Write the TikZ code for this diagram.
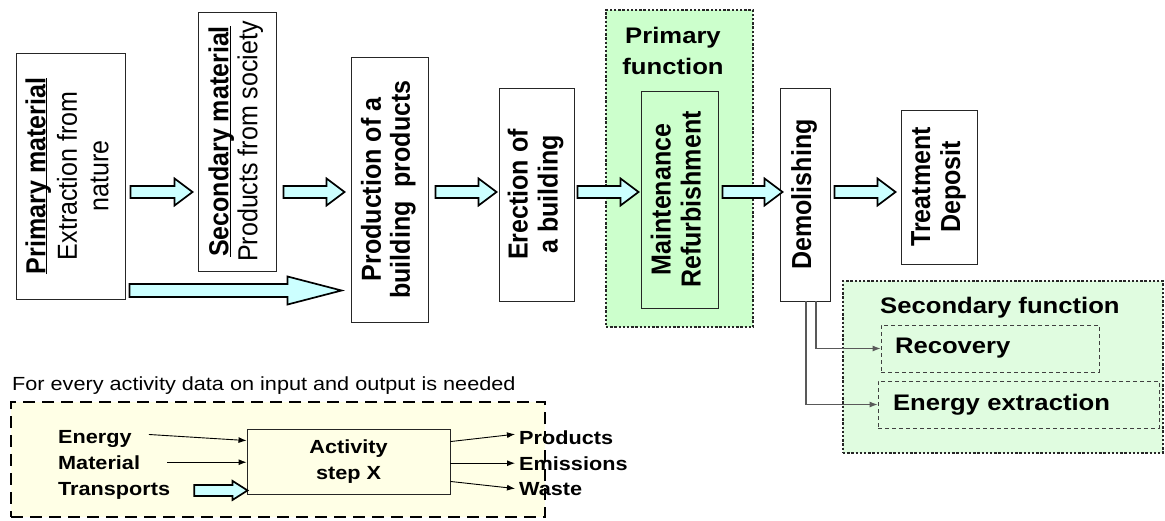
\documentclass[tikz,border=0pt]{standalone}
\usepackage{graphicx}
\usepackage{fontspec}
\setmainfont{Liberation Sans}
% upright text is widened, upright-turned text is narrowed along its own axis
\newfontfamily\rotfont[FakeStretch=0.91]{Liberation Sans}
\newfontfamily\horfont[FakeStretch=1.14]{Liberation Sans}
\usetikzlibrary{arrows.meta,calc}

\definecolor{arrowfill}{RGB}{204,255,255}
\definecolor{primgreen}{RGB}{204,255,204}
\definecolor{secgreen}{RGB}{224,252,224}
\definecolor{notefill}{RGB}{255,255,230}

% text set bottom-to-top inside a box
\newcommand\vtext[2][30]{\rotatebox{90}{\rotfont\fontsize{27.5}{#1}\selectfont\begin{tabular}{@{}c@{}}#2\end{tabular}}}
\newcommand\ulsmash[1]{\underline{\smash{#1}}}

% hollow block arrow: start, tip, shaft half width, head half width, head length
\newcommand\fatarrow[5]{%
  \draw[fat] ([yshift=#3]#1) -- ([xshift=-#5,yshift=#3]#2) -- ([xshift=-#5,yshift=#4]#2)
    -- (#2) -- ([xshift=-#5,yshift=-#4]#2) -- ([xshift=-#5,yshift=-#3]#2)
    -- ([yshift=-#3]#1) -- cycle;}

\tikzset{
  stagebox/.style={draw=black!85, line width=0.9pt, fill=white, inner sep=0pt},
  fat/.style={draw=black, line width=1.7pt, fill=arrowfill, line join=miter},
  dotregion/.style={draw=black!85, line width=2.4pt, dash pattern=on 2.4pt off 1.8pt, inner sep=0pt},
  noteregion/.style={draw=black, line width=2.6pt, dash pattern=on 12pt off 7pt, fill=notefill, inner sep=0pt},
  title/.style={font=\horfont\bfseries\fontsize{22.5}{31}\selectfont, inner sep=0pt},
  subbox/.style={draw=black!75, line width=0.8pt, dash pattern=on 4pt off 3pt, align=left,
                 inner ysep=0pt, minimum height=47pt, font=\horfont\bfseries\fontsize{22.5}{26}\selectfont},
  lbl/.style={font=\horfont\bfseries\fontsize{19}{22}\selectfont, inner sep=0pt},
  thinarr/.style={draw=black, line width=0.9pt, -{Latex[length=8pt,width=6pt]}},
  grayarr/.style={draw=black!65, line width=1.1pt, -{Latex[length=8pt,width=6pt]}},
}

\begin{document}
\begin{tikzpicture}[x=1pt, y=-1pt]
\useasboundingbox (0,0) rectangle (1165,520);

% ---------- function regions ----------
\node[dotregion, fill=primgreen, minimum width=147pt, minimum height=317pt] (pf) at (679.5,168.5) {};
\node[title, align=center] (pft) at (673,50.5) {Primary\\function};
\node[dotregion, fill=secgreen, minimum width=320pt, minimum height=172pt] (sf) at (1003,367) {};
\node[title, anchor=base west] (sft) at (880,313) {Secondary function};

% ---------- life-cycle stages ----------
\node[stagebox, minimum width=109pt, minimum height=246pt] (pm) at (70.5,176)
  {\vtext[31.5]{\bfseries\ulsmash{Primary material}\\Extraction from\\nature}};
\node[stagebox, minimum width=78pt, minimum height=259pt] (sm) at (237,141.5)
  {\vtext[29]{\bfseries\ulsmash{Secondary material}\\Products from society}};
\node[stagebox, minimum width=77pt, minimum height=265pt] (pb) at (389.5,189.5)
  {\vtext[29]{\bfseries Production of a\\\bfseries building\ \ products}};
\node[stagebox, minimum width=75pt, minimum height=213pt] (er) at (536.5,194.5)
  {\vtext{\bfseries Erection of\\\bfseries a building}};
\node[stagebox, fill=primgreen, minimum width=77pt, minimum height=217pt] (mr) at (679.5,199.5)
  {\vtext{\bfseries Maintenance\\\bfseries Refurbishment}};
\node[stagebox, minimum width=50pt, minimum height=213pt] (dm) at (805,194.5)
  {\vtext{\bfseries Demolishing}};
\node[stagebox, minimum width=76pt, minimum height=154pt] (tr) at (939,187)
  {\vtext{\bfseries Treatment\\\bfseries Deposit}};

% ---------- secondary functions ----------
\node[subbox, text width=190pt, inner xsep=14pt] (rec) at (990,348.5) {Recovery};
\node[subbox, text width=251pt, inner xsep=15pt] (enx) at (1018.5,404.5) {Energy extraction};
\draw[grayarr] ([xshift=11pt]dm.south) |- (rec.west);
\draw[grayarr] ([xshift=1pt]dm.south) |- (enx.west);

% ---------- main flow ----------
\coordinate (axis) at (0,192);
\coordinate (low) at (0,290.5);
\path (pm.east |- axis) ++(5,0) coordinate (a1s);
\path (sm.west |- axis) ++(-5,0) coordinate (a1t);
\path (sm.east |- axis) ++(7,0) coordinate (a2s);
\path (pb.west |- axis) ++(-6,0) coordinate (a2t);
\path (pb.east |- axis) ++(7,0) coordinate (a3s);
\path (er.west |- axis) ++(-2,0) coordinate (a3t);
\path (er.east |- axis) ++(3,0) coordinate (a4s);
\path (mr.west |- axis) ++(-2,0) coordinate (a4t);
\path (mr.east |- axis) ++(4,0) coordinate (a5s);
\path (dm.west |- axis) ++(3,0) coordinate (a5t);
\path (dm.east |- axis) ++(4,0) coordinate (a6s);
\path (tr.west |- axis) ++(-5,0) coordinate (a6t);
\path (pm.east |- low) ++(4,0) coordinate (l1s);
\path (pb.west |- low) ++(-9,0) coordinate (l1t);

\fatarrow{a1s}{a1t}{6pt}{13.5pt}{18pt}
\fatarrow{a2s}{a2t}{6pt}{13.5pt}{18pt}
\fatarrow{a3s}{a3t}{6pt}{13.5pt}{18pt}
\fatarrow{a4s}{a4t}{6pt}{13.5pt}{18pt}
\fatarrow{a5s}{a5t}{6pt}{13.5pt}{18pt}
\fatarrow{a6s}{a6t}{6pt}{13.5pt}{18pt}
\fatarrow{l1s}{l1t}{6.5pt}{14pt}{54pt}

% ---------- input / output scheme ----------
\node[anchor=base west, inner sep=0pt, font=\horfont\fontsize{19}{22}\selectfont] (note) at (12,390)
  {For every activity data on input and output is needed};
\node[noteregion, minimum width=534pt, minimum height=115pt] (nr) at (278,459.5) {};
\node[draw=black!85, line width=0.9pt, fill=notefill, minimum width=203pt, minimum height=65pt,
      inner sep=0pt, align=center, font=\horfont\bfseries\fontsize{19}{26}\selectfont] (act) at (348.5,461.5)
  {Activity\\step X};

\node[lbl, anchor=base west] (en) at (58,443) {Energy};
\node[lbl, anchor=base west] (ma) at (58,469) {Material};
\node[lbl, anchor=base west] (tp) at (58,495) {Transports};
\node[lbl, anchor=base west] (pr) at (519,444) {Products};
\node[lbl, anchor=base west] (em) at (519,470) {Emissions};
\node[lbl, anchor=base west] (wa) at (519,495) {Waste};

\draw[thinarr] ([xshift=17pt,yshift=4pt]en.east) -- ([yshift=-12pt]act.north west);
\draw[thinarr] ([xshift=27pt]ma.east) -- (ma.east -| act.west);
\path (tp.east) ++(24,0) coordinate (t1s);
\path (act.west |- t1s) ++(1,0) coordinate (t1t);
\fatarrow{t1s}{t1t}{5.5pt}{9.5pt}{15pt}

\draw[thinarr] ([yshift=-13pt]act.north east) -- ([xshift=-4pt,yshift=3pt]pr.west);
\draw[thinarr] (act.east |- em.west) -- ([xshift=-4pt]em.west);
\draw[thinarr] ([yshift=13pt]act.south east) -- ([xshift=-4pt]wa.west);
\end{tikzpicture}
\end{document}
